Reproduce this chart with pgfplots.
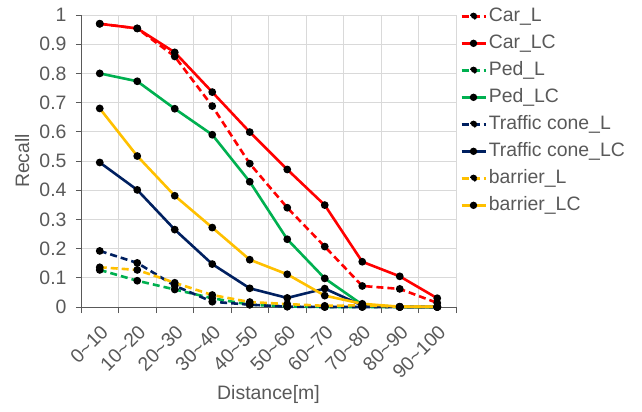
\documentclass[border=0pt]{standalone}
\usepackage{fontspec}
\setmainfont{Liberation Sans}
\usepackage{pgfplots}
\pgfplotsset{compat=1.18}
\definecolor{cred}{HTML}{FF0000}
\definecolor{cgreen}{HTML}{00B050}
\definecolor{cblue}{HTML}{002060}
\definecolor{cyel}{HTML}{FFC000}
\definecolor{txt}{HTML}{595959}
\definecolor{gridc}{HTML}{D9D9D9}
\begin{document}
\begin{tikzpicture}[x=1bp,y=1bp]
\path[use as bounding box] (-81bp,-105bp) rectangle (561bp,307bp);
\begin{axis}[
  scale only axis, width=375bp, height=292bp,
  at={(0,0)}, anchor=south west,
  xmin=-0.5, xmax=9.5, ymin=0, ymax=1,
  axis lines=left, axis line style={-, draw=txt, line width=0.8bp},
  xtick={0,...,9},
  xticklabels={0\textasciitilde10,10\textasciitilde20,20\textasciitilde30,30\textasciitilde40,40\textasciitilde50,50\textasciitilde60,60\textasciitilde70,70\textasciitilde80,80\textasciitilde90,90\textasciitilde100},
  minor xtick={-0.5,0.5,...,9.5},
  major x tick style={draw=none},
  minor x tick style={draw=txt, line width=0.8bp},
  minor tick length=6bp,
  ytick={0,0.1,...,1.01},
  y tick style={draw=txt, line width=0.8bp},
  major tick length=5bp,
  tick align=outside,
  xticklabel shift=9bp,
  yticklabel shift=6bp,
  xminorgrids=true, xmajorgrids=false, ymajorgrids=true,
  minor grid style={draw=gridc, line width=0.8bp},
  major grid style={draw=gridc, line width=0.8bp},
  /pgf/number format/assume math mode=true,
  yticklabel style={font=\fontsize{19.5}{23}\selectfont, text=txt},
  xticklabel style={font=\fontsize{19.5}{23}\selectfont, text=txt, rotate=45, anchor=north east, inner sep=2bp},
  xlabel={Distance[m]}, ylabel={Recall},
  every axis x label/.style={at={(axis description cs:0.5,-0.301)}, anchor=center, font=\fontsize{19.5}{23}\selectfont, text=txt},
  every axis y label/.style={at={(axis description cs:-0.157,0.5)}, rotate=90, anchor=center, font=\fontsize{19.5}{23}\selectfont, text=txt},
  legend style={draw=none, fill=none, at={(1.0107,1.027)}, anchor=north west, font=\fontsize{19.5}{23}\selectfont, text=txt, row sep=9bp, column sep=0bp, inner sep=0pt, nodes={inner sep=0pt, text height=14bp, text depth=4bp}},
  legend cell align=left,
  legend image code/.code={\draw[#1] (0bp,0bp) -- (24bp,0bp); \fill[black] (12bp,0bp) circle (2.3bp); \path (26bp,0bp);},
  every axis plot/.append style={line width=2.6bp, mark=*, mark size=2.5bp, mark options={solid, fill=black, draw=black}},
  clip=false,
]
\addplot[cred, dash pattern=on 7bp off 4bp] coordinates {(0,0.970) (1,0.954) (2,0.858) (3,0.688) (4,0.491) (5,0.340) (6,0.207) (7,0.072) (8,0.062) (9,0.014)};
\addlegendentry{Car\_L}
\addplot[cred] coordinates {(0,0.970) (1,0.954) (2,0.872) (3,0.736) (4,0.599) (5,0.471) (6,0.349) (7,0.155) (8,0.105) (9,0.030)};
\addlegendentry{Car\_LC}
\addplot[cgreen, dash pattern=on 7bp off 4bp] coordinates {(0,0.127) (1,0.090) (2,0.060) (3,0.030) (4,0.008) (5,0.002) (6,0) (7,0) (8,0) (9,0)};
\addlegendentry{Ped\_L}
\addplot[cgreen] coordinates {(0,0.800) (1,0.773) (2,0.679) (3,0.590) (4,0.429) (5,0.232) (6,0.098) (7,0.008) (8,0) (9,0)};
\addlegendentry{Ped\_LC}
\addplot[cblue, dash pattern=on 7bp off 4bp] coordinates {(0,0.192) (1,0.151) (2,0.073) (3,0.018) (4,0.008) (5,0.001) (6,0) (7,0) (8,0) (9,0)};
\addlegendentry{Traffic cone\_L}
\addplot[cblue] coordinates {(0,0.495) (1,0.401) (2,0.265) (3,0.147) (4,0.064) (5,0.031) (6,0.063) (7,0.005) (8,0) (9,0)};
\addlegendentry{Traffic cone\_LC}
\addplot[cyel, dash pattern=on 7bp off 4bp] coordinates {(0,0.136) (1,0.127) (2,0.083) (3,0.041) (4,0.017) (5,0.010) (6,0.004) (7,0.006) (8,0.001) (9,0.001)};
\addlegendentry{barrier\_L}
\addplot[cyel] coordinates {(0,0.680) (1,0.517) (2,0.381) (3,0.272) (4,0.162) (5,0.112) (6,0.039) (7,0.011) (8,0.001) (9,0.001)};
\addlegendentry{barrier\_LC}
\end{axis}
\end{tikzpicture}
\end{document}
